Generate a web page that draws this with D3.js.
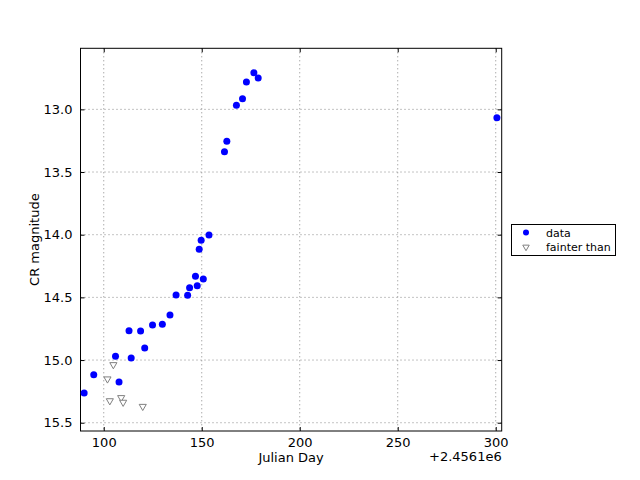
<!DOCTYPE html>
<html><head><meta charset="utf-8">
<script src="https://cdn.jsdelivr.net/npm/d3@7"></script>
<style>body{margin:0;background:#fff}text{font-family:"DejaVu Sans",sans-serif}</style>
</head><body>
<svg id="c" width="640" height="480"></svg>
<script>
// Julian Day offsets (JD - 2456100) and CR magnitudes
const dataDays = [90.0, 94.9, 106.0, 107.8, 112.9, 114.0, 118.8, 120.9, 124.9, 129.9, 133.8, 136.9, 142.8, 143.8, 146.8, 147.7, 148.7, 149.7, 150.8, 153.7, 161.6, 162.8, 167.7, 170.8, 172.8, 176.6, 178.8, 300.6];
const dataMags = [15.263, 15.117, 14.970, 15.175, 14.766, 14.984, 14.769, 14.904, 14.721, 14.715, 14.641, 14.481, 14.484, 14.423, 14.332, 14.407, 14.117, 14.045, 14.354, 14.003, 13.338, 13.255, 12.968, 12.915, 12.782, 12.708, 12.750, 13.067];
const limitDays = [101.9, 103.1, 104.9, 108.9, 109.9, 119.9];
const limitMags = [15.151, 15.325, 15.037, 15.300, 15.337, 15.370];
const xTicks = [100, 150, 200, 250, 300];
const yTicks = [13.0, 13.5, 14.0, 14.5, 15.0, 15.5];
const offsetLabel = "+2.4561e6";

const svg = d3.select("#c");
const L = 80.5, R = 501.7, T = 48.3, B = 431;
const x = d3.scaleLinear().domain([88.14, 303.05]).range([L, R]);
const y = d3.scaleLinear().domain([12.513, 15.566]).range([T, B]);

// grid
const g = svg.append("g");
g.selectAll(".vg").data(xTicks).join("line")
  .attr("x1", d => x(d)).attr("x2", d => x(d)).attr("y1", T).attr("y2", B)
  .attr("stroke", "#888").attr("stroke-width", 1).attr("stroke-dasharray", "1,3");
g.selectAll(".hg").data(yTicks).join("line")
  .attr("y1", d => y(d)).attr("y2", d => y(d)).attr("x1", L).attr("x2", R)
  .attr("stroke", "#888").attr("stroke-width", 1).attr("stroke-dasharray", "1,3");

// axes with inward ticks
const xb = svg.append("g").attr("transform", `translate(0,${B})`)
  .call(d3.axisBottom(x).tickValues(xTicks).tickSizeInner(-4).tickSizeOuter(0).tickPadding(7).tickFormat(d3.format("d")));
const xt = svg.append("g").attr("transform", `translate(0,${T})`)
  .call(d3.axisTop(x).tickValues(xTicks).tickSizeInner(-4).tickSizeOuter(0).tickFormat(""));
const yl = svg.append("g").attr("transform", `translate(${L},0)`)
  .call(d3.axisLeft(y).tickValues(yTicks).tickSizeInner(-4).tickSizeOuter(0).tickPadding(8).tickFormat(d3.format(".1f")));
const yr = svg.append("g").attr("transform", `translate(${R},0)`)
  .call(d3.axisRight(y).tickValues(yTicks).tickSizeInner(-4).tickSizeOuter(0).tickFormat(""));
[xb, xt, yl, yr].forEach(a => {
  a.select(".domain").remove();
  a.selectAll("line").attr("stroke", "#000");
  a.selectAll("text").attr("font-size", 13).attr("fill", "#000").style("font-family", "DejaVu Sans");
});
svg.append("rect").attr("x", L).attr("y", T).attr("width", R - L).attr("height", B - T)
  .attr("fill", "none").attr("stroke", "#000").attr("stroke-width", 1);

// data points
const pts = dataDays.map((d, i) => [d, dataMags[i]]);
svg.append("g").selectAll("circle").data(pts).join("circle")
  .attr("cx", d => x(d[0])).attr("cy", d => y(d[1])).attr("r", 3.5).attr("fill", "#0000ff");

const tri = d3.symbol().type(d3.symbolTriangle).size(22);
const lim = limitDays.map((d, i) => [d, limitMags[i]]);
svg.append("g").selectAll("path").data(lim).join("path")
  .attr("d", tri).attr("transform", d => `translate(${x(d[0])},${y(d[1])}) rotate(180)`)
  .attr("fill", "#fff").attr("stroke", "#808080").attr("stroke-width", 1);

// labels
svg.append("text").attr("x", (L + R) / 2).attr("y", 462).attr("text-anchor", "middle").attr("font-size", 13).text("Julian Day");
svg.append("text").attr("transform", `translate(39,${(T + B) / 2}) rotate(-90)`).attr("text-anchor", "middle").attr("font-size", 13).text("CR magnitude");
svg.append("text").attr("x", R).attr("y", 461).attr("text-anchor", "end").attr("font-size", 13).text(offsetLabel);

// legend
const lg = svg.append("g");
lg.append("rect").attr("x", 511.5).attr("y", 224.5).attr("width", 104).attr("height", 31).attr("fill", "#fff").attr("stroke", "#000");
lg.append("circle").attr("cx", 526).attr("cy", 232.5).attr("r", 3).attr("fill", "#0000ff");
lg.append("path").attr("d", d3.symbol().type(d3.symbolTriangle).size(18)).attr("transform", "translate(526,247) rotate(180)").attr("fill", "#fff").attr("stroke", "#808080");
lg.append("text").attr("x", 546).attr("y", 236.5).attr("font-size", 11).text("data");
lg.append("text").attr("x", 546).attr("y", 251).attr("font-size", 11).text("fainter than");
</script>
</body></html>
